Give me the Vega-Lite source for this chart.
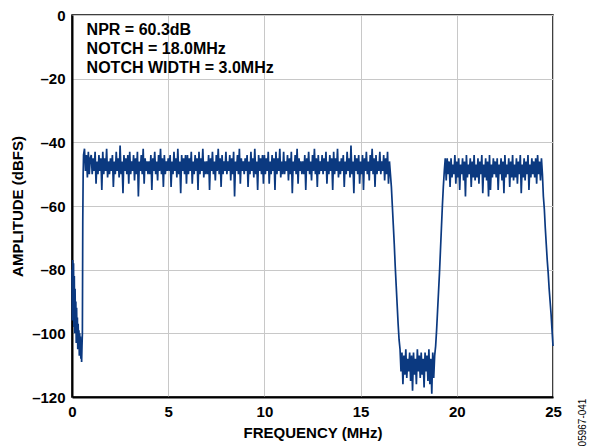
{
  "$schema": "https://vega.github.io/schema/vega-lite/v6.json",
  "width": 481,
  "height": 382,
  "autosize": "none",
  "padding": {"left": 72, "top": 15, "right": 39, "bottom": 50},
  "background": "white",
  "config": {
    "view": {"stroke": "#000000", "strokeWidth": 1.5, "fill": null},
    "font": "Liberation Sans"
  },
  "data": {"values": [
    {"f":0.00,"a":-80},{"f":0.02,"a":-96},{"f":0.04,"a":-77},{"f":0.06,"a":-92},{"f":0.08,"a":-78},{"f":0.10,"a":-98},{"f":0.12,"a":-82},{"f":0.14,"a":-100},{"f":0.16,"a":-86},{"f":0.18,"a":-97},{"f":0.20,"a":-90},{"f":0.22,"a":-103},{"f":0.24,"a":-92},{"f":0.26,"a":-101},{"f":0.28,"a":-95},{"f":0.30,"a":-105},{"f":0.32,"a":-97},{"f":0.34,"a":-103},{"f":0.36,"a":-99},{"f":0.38,"a":-107},{"f":0.40,"a":-100},{"f":0.42,"a":-104},{"f":0.44,"a":-101},{"f":0.46,"a":-108},{"f":0.48,"a":-103},{"f":0.50,"a":-109},{"f":0.52,"a":-104},{"f":0.54,"a":-100},{"f":0.56,"a":-65},{"f":0.58,"a":-50},{"f":0.60,"a":-44},
    {"f":0.65,"a":-42},{"f":0.70,"a":-49},{"f":0.75,"a":-44},{"f":0.80,"a":-51},{"f":0.85,"a":-43},{"f":0.90,"a":-50},{"f":0.95,"a":-45},
    {"f":1.00,"a":-44},{"f":1.05,"a":-50},{"f":1.10,"a":-45},{"f":1.15,"a":-49},{"f":1.20,"a":-43},{"f":1.25,"a":-53},{"f":1.30,"a":-46},{"f":1.35,"a":-50},{"f":1.40,"a":-44},{"f":1.45,"a":-49},{"f":1.50,"a":-45},{"f":1.55,"a":-55},{"f":1.60,"a":-43},{"f":1.65,"a":-50},{"f":1.70,"a":-45},{"f":1.75,"a":-49},{"f":1.80,"a":-42},{"f":1.85,"a":-51},{"f":1.90,"a":-46},{"f":1.95,"a":-50},
    {"f":2.00,"a":-45},{"f":2.05,"a":-49},{"f":2.10,"a":-44},{"f":2.15,"a":-54},{"f":2.20,"a":-46},{"f":2.25,"a":-50},{"f":2.30,"a":-43},{"f":2.35,"a":-49},{"f":2.40,"a":-45},{"f":2.45,"a":-51},{"f":2.50,"a":-41},{"f":2.55,"a":-50},{"f":2.60,"a":-46},{"f":2.65,"a":-56},{"f":2.70,"a":-44},{"f":2.75,"a":-49},{"f":2.80,"a":-45},{"f":2.85,"a":-50},{"f":2.90,"a":-44},{"f":2.95,"a":-53},
    {"f":3.00,"a":-43},{"f":3.05,"a":-50},{"f":3.10,"a":-46},{"f":3.15,"a":-49},{"f":3.20,"a":-44},{"f":3.25,"a":-52},{"f":3.30,"a":-45},{"f":3.35,"a":-50},{"f":3.40,"a":-43},{"f":3.45,"a":-57},{"f":3.50,"a":-46},{"f":3.55,"a":-49},{"f":3.60,"a":-44},{"f":3.65,"a":-50},{"f":3.70,"a":-42},{"f":3.75,"a":-53},{"f":3.80,"a":-45},{"f":3.85,"a":-49},{"f":3.90,"a":-46},{"f":3.95,"a":-50},
    {"f":4.00,"a":-46},{"f":4.05,"a":-50},{"f":4.10,"a":-44},{"f":4.15,"a":-55},{"f":4.20,"a":-45},{"f":4.25,"a":-49},{"f":4.30,"a":-43},{"f":4.35,"a":-50},{"f":4.40,"a":-46},{"f":4.45,"a":-52},{"f":4.50,"a":-44},{"f":4.55,"a":-49},{"f":4.60,"a":-42},{"f":4.65,"a":-50},{"f":4.70,"a":-45},{"f":4.75,"a":-54},{"f":4.80,"a":-44},{"f":4.85,"a":-50},{"f":4.90,"a":-46},{"f":4.95,"a":-49},
    {"f":5.00,"a":-45},{"f":5.05,"a":-49},{"f":5.10,"a":-44},{"f":5.15,"a":-54},{"f":5.20,"a":-46},{"f":5.25,"a":-50},{"f":5.30,"a":-43},{"f":5.35,"a":-49},{"f":5.40,"a":-45},{"f":5.45,"a":-51},{"f":5.50,"a":-42},{"f":5.55,"a":-50},{"f":5.60,"a":-46},{"f":5.65,"a":-56},{"f":5.70,"a":-44},{"f":5.75,"a":-49},{"f":5.80,"a":-45},{"f":5.85,"a":-50},{"f":5.90,"a":-44},{"f":5.95,"a":-53},
    {"f":6.00,"a":-44},{"f":6.05,"a":-50},{"f":6.10,"a":-45},{"f":6.15,"a":-49},{"f":6.20,"a":-43},{"f":6.25,"a":-53},{"f":6.30,"a":-46},{"f":6.35,"a":-50},{"f":6.40,"a":-44},{"f":6.45,"a":-49},{"f":6.50,"a":-45},{"f":6.55,"a":-55},{"f":6.60,"a":-43},{"f":6.65,"a":-50},{"f":6.70,"a":-45},{"f":6.75,"a":-49},{"f":6.80,"a":-42},{"f":6.85,"a":-51},{"f":6.90,"a":-46},{"f":6.95,"a":-50},
    {"f":7.00,"a":-46},{"f":7.05,"a":-50},{"f":7.10,"a":-44},{"f":7.15,"a":-55},{"f":7.20,"a":-45},{"f":7.25,"a":-49},{"f":7.30,"a":-43},{"f":7.35,"a":-50},{"f":7.40,"a":-46},{"f":7.45,"a":-52},{"f":7.50,"a":-44},{"f":7.55,"a":-49},{"f":7.60,"a":-42},{"f":7.65,"a":-50},{"f":7.70,"a":-45},{"f":7.75,"a":-54},{"f":7.80,"a":-44},{"f":7.85,"a":-50},{"f":7.90,"a":-46},{"f":7.95,"a":-49},
    {"f":8.00,"a":-43},{"f":8.05,"a":-50},{"f":8.10,"a":-46},{"f":8.15,"a":-49},{"f":8.20,"a":-44},{"f":8.25,"a":-52},{"f":8.30,"a":-45},{"f":8.35,"a":-50},{"f":8.40,"a":-43},{"f":8.45,"a":-57},{"f":8.50,"a":-46},{"f":8.55,"a":-49},{"f":8.60,"a":-44},{"f":8.65,"a":-50},{"f":8.70,"a":-42},{"f":8.75,"a":-53},{"f":8.80,"a":-45},{"f":8.85,"a":-49},{"f":8.90,"a":-46},{"f":8.95,"a":-50},
    {"f":9.00,"a":-45},{"f":9.05,"a":-49},{"f":9.10,"a":-44},{"f":9.15,"a":-54},{"f":9.20,"a":-46},{"f":9.25,"a":-50},{"f":9.30,"a":-43},{"f":9.35,"a":-49},{"f":9.40,"a":-45},{"f":9.45,"a":-51},{"f":9.50,"a":-42},{"f":9.55,"a":-50},{"f":9.60,"a":-46},{"f":9.65,"a":-55},{"f":9.70,"a":-44},{"f":9.75,"a":-49},{"f":9.80,"a":-45},{"f":9.85,"a":-50},{"f":9.90,"a":-44},{"f":9.95,"a":-53},
    {"f":10.00,"a":-44},{"f":10.05,"a":-50},{"f":10.10,"a":-45},{"f":10.15,"a":-49},{"f":10.20,"a":-43},{"f":10.25,"a":-53},{"f":10.30,"a":-46},{"f":10.35,"a":-50},{"f":10.40,"a":-44},{"f":10.45,"a":-49},{"f":10.50,"a":-45},{"f":10.55,"a":-55},{"f":10.60,"a":-43},{"f":10.65,"a":-50},{"f":10.70,"a":-45},{"f":10.75,"a":-49},{"f":10.80,"a":-42},{"f":10.85,"a":-51},{"f":10.90,"a":-46},{"f":10.95,"a":-50},
    {"f":11.00,"a":-43},{"f":11.05,"a":-50},{"f":11.10,"a":-46},{"f":11.15,"a":-49},{"f":11.20,"a":-44},{"f":11.25,"a":-52},{"f":11.30,"a":-45},{"f":11.35,"a":-50},{"f":11.40,"a":-43},{"f":11.45,"a":-56},{"f":11.50,"a":-46},{"f":11.55,"a":-49},{"f":11.60,"a":-44},{"f":11.65,"a":-50},{"f":11.70,"a":-42},{"f":11.75,"a":-53},{"f":11.80,"a":-45},{"f":11.85,"a":-49},{"f":11.90,"a":-46},{"f":11.95,"a":-50},
    {"f":12.00,"a":-46},{"f":12.05,"a":-50},{"f":12.10,"a":-44},{"f":12.15,"a":-55},{"f":12.20,"a":-45},{"f":12.25,"a":-49},{"f":12.30,"a":-43},{"f":12.35,"a":-50},{"f":12.40,"a":-46},{"f":12.45,"a":-52},{"f":12.50,"a":-44},{"f":12.55,"a":-49},{"f":12.60,"a":-42},{"f":12.65,"a":-50},{"f":12.70,"a":-45},{"f":12.75,"a":-54},{"f":12.80,"a":-44},{"f":12.85,"a":-50},{"f":12.90,"a":-46},{"f":12.95,"a":-49},
    {"f":13.00,"a":-44},{"f":13.05,"a":-50},{"f":13.10,"a":-45},{"f":13.15,"a":-49},{"f":13.20,"a":-43},{"f":13.25,"a":-53},{"f":13.30,"a":-46},{"f":13.35,"a":-50},{"f":13.40,"a":-44},{"f":13.45,"a":-49},{"f":13.50,"a":-45},{"f":13.55,"a":-55},{"f":13.60,"a":-43},{"f":13.65,"a":-50},{"f":13.70,"a":-45},{"f":13.75,"a":-49},{"f":13.80,"a":-42},{"f":13.85,"a":-51},{"f":13.90,"a":-46},{"f":13.95,"a":-50},
    {"f":14.00,"a":-45},{"f":14.05,"a":-49},{"f":14.10,"a":-44},{"f":14.15,"a":-54},{"f":14.20,"a":-46},{"f":14.25,"a":-50},{"f":14.30,"a":-43},{"f":14.35,"a":-49},{"f":14.40,"a":-45},{"f":14.45,"a":-51},{"f":14.50,"a":-41},{"f":14.55,"a":-50},{"f":14.60,"a":-46},{"f":14.65,"a":-56},{"f":14.70,"a":-44},{"f":14.75,"a":-49},{"f":14.80,"a":-45},{"f":14.85,"a":-50},{"f":14.90,"a":-44},{"f":14.95,"a":-53},
    {"f":15.00,"a":-46},{"f":15.05,"a":-50},{"f":15.10,"a":-44},{"f":15.15,"a":-55},{"f":15.20,"a":-45},{"f":15.25,"a":-49},{"f":15.30,"a":-43},{"f":15.35,"a":-50},{"f":15.40,"a":-46},{"f":15.45,"a":-52},{"f":15.50,"a":-44},{"f":15.55,"a":-49},{"f":15.60,"a":-42},{"f":15.65,"a":-50},{"f":15.70,"a":-45},{"f":15.75,"a":-54},{"f":15.80,"a":-44},{"f":15.85,"a":-50},{"f":15.90,"a":-46},{"f":15.95,"a":-49},
    {"f":16.00,"a":-43},{"f":16.05,"a":-50},{"f":16.10,"a":-46},{"f":16.15,"a":-49},{"f":16.20,"a":-44},{"f":16.25,"a":-52},{"f":16.30,"a":-45},{"f":16.35,"a":-50},{"f":16.40,"a":-43},{"f":16.45,"a":-53},{"f":16.50,"a":-46},
    {"f":16.55,"a":-50},{"f":16.60,"a":-54},{"f":16.65,"a":-60},{"f":16.70,"a":-66},{"f":16.75,"a":-72},{"f":16.80,"a":-79},{"f":16.85,"a":-85},{"f":16.90,"a":-91},{"f":16.95,"a":-97},{"f":17.00,"a":-102},{"f":17.05,"a":-105},
    {"f":17.10,"a":-112},{"f":17.15,"a":-106},{"f":17.20,"a":-116},{"f":17.25,"a":-107},{"f":17.30,"a":-113},{"f":17.35,"a":-105},{"f":17.40,"a":-114},{"f":17.45,"a":-108},{"f":17.50,"a":-112},{"f":17.55,"a":-106},{"f":17.60,"a":-115},{"f":17.65,"a":-107},{"f":17.70,"a":-118},{"f":17.75,"a":-106},{"f":17.80,"a":-113},{"f":17.85,"a":-108},{"f":17.90,"a":-116},{"f":17.95,"a":-105},{"f":18.00,"a":-112},{"f":18.05,"a":-107},{"f":18.10,"a":-114},{"f":18.15,"a":-106},{"f":18.20,"a":-113},{"f":18.25,"a":-108},{"f":18.30,"a":-117},{"f":18.35,"a":-106},{"f":18.40,"a":-112},{"f":18.45,"a":-107},{"f":18.50,"a":-115},{"f":18.55,"a":-105},{"f":18.60,"a":-116},{"f":18.65,"a":-108},{"f":18.70,"a":-119},{"f":18.75,"a":-106},{"f":18.80,"a":-114},{"f":18.85,"a":-107},
    {"f":18.90,"a":-104},{"f":18.95,"a":-99},{"f":19.00,"a":-93},{"f":19.05,"a":-87},{"f":19.10,"a":-81},{"f":19.15,"a":-74},{"f":19.20,"a":-67},{"f":19.25,"a":-60},{"f":19.30,"a":-54},{"f":19.35,"a":-49},{"f":19.40,"a":-45},
    {"f":19.45,"a":-52},{"f":19.50,"a":-45},{"f":19.55,"a":-50},{"f":19.60,"a":-46},{"f":19.65,"a":-54},{"f":19.70,"a":-45},{"f":19.75,"a":-51},{"f":19.80,"a":-47},{"f":19.85,"a":-50},{"f":19.90,"a":-44},{"f":19.95,"a":-53},
    {"f":20.00,"a":-46},{"f":20.05,"a":-51},{"f":20.10,"a":-45},{"f":20.15,"a":-55},{"f":20.20,"a":-47},{"f":20.25,"a":-50},{"f":20.30,"a":-45},{"f":20.35,"a":-52},{"f":20.40,"a":-46},{"f":20.45,"a":-57},{"f":20.50,"a":-44},{"f":20.55,"a":-51},{"f":20.60,"a":-47},{"f":20.65,"a":-50},{"f":20.70,"a":-45},{"f":20.75,"a":-54},{"f":20.80,"a":-46},{"f":20.85,"a":-51},{"f":20.90,"a":-44},{"f":20.95,"a":-52},
    {"f":21.00,"a":-47},{"f":21.05,"a":-51},{"f":21.10,"a":-45},{"f":21.15,"a":-53},{"f":21.20,"a":-46},{"f":21.25,"a":-50},{"f":21.30,"a":-44},{"f":21.35,"a":-56},{"f":21.40,"a":-47},{"f":21.45,"a":-51},{"f":21.50,"a":-45},{"f":21.55,"a":-52},{"f":21.60,"a":-46},{"f":21.65,"a":-57},{"f":21.70,"a":-44},{"f":21.75,"a":-55},{"f":21.80,"a":-47},{"f":21.85,"a":-51},{"f":21.90,"a":-45},{"f":21.95,"a":-50},
    {"f":22.00,"a":-46},{"f":22.05,"a":-51},{"f":22.10,"a":-45},{"f":22.15,"a":-55},{"f":22.20,"a":-47},{"f":22.25,"a":-50},{"f":22.30,"a":-45},{"f":22.35,"a":-52},{"f":22.40,"a":-46},{"f":22.45,"a":-56},{"f":22.50,"a":-44},{"f":22.55,"a":-51},{"f":22.60,"a":-47},{"f":22.65,"a":-50},{"f":22.70,"a":-45},{"f":22.75,"a":-54},{"f":22.80,"a":-46},{"f":22.85,"a":-51},{"f":22.90,"a":-44},{"f":22.95,"a":-52},
    {"f":23.00,"a":-47},{"f":23.05,"a":-51},{"f":23.10,"a":-45},{"f":23.15,"a":-53},{"f":23.20,"a":-46},{"f":23.25,"a":-50},{"f":23.30,"a":-44},{"f":23.35,"a":-56},{"f":23.40,"a":-47},{"f":23.45,"a":-51},{"f":23.50,"a":-45},{"f":23.55,"a":-52},{"f":23.60,"a":-46},{"f":23.65,"a":-50},{"f":23.70,"a":-44},{"f":23.75,"a":-55},{"f":23.80,"a":-47},{"f":23.85,"a":-51},{"f":23.90,"a":-45},{"f":23.95,"a":-50},
    {"f":24.00,"a":-46},{"f":24.05,"a":-51},{"f":24.10,"a":-45},{"f":24.15,"a":-53},{"f":24.20,"a":-44},{"f":24.25,"a":-50},{"f":24.30,"a":-46},{"f":24.35,"a":-52},{"f":24.40,"a":-45},
    {"f":24.45,"a":-50},{"f":24.50,"a":-57},{"f":24.55,"a":-61},{"f":24.60,"a":-67},{"f":24.65,"a":-72},{"f":24.70,"a":-77},{"f":24.75,"a":-81},{"f":24.80,"a":-86},{"f":24.85,"a":-90},{"f":24.90,"a":-94},{"f":24.95,"a":-99},{"f":25.00,"a":-104}
  ]},
  "layer": [
    {
      "mark": {"type": "line", "color": "#0b3980", "strokeWidth": 1.7},
      "encoding": {
        "x": {"field": "f", "type": "quantitative", "scale": {"domain": [0, 25], "nice": false},
              "axis": {"values": [0, 5, 10, 15, 20, 25], "title": "FREQUENCY (MHz)", "labelPadding": 7, "titlePadding": 6,
                       "labelFlush": false, "labelFont": "Liberation Sans", "labelFontWeight": "bold", "labelFontSize": 15, "labelColor": "#000000",
                       "titleFont": "Liberation Sans", "titleFontWeight": "bold", "titleFontSize": 15, "titleColor": "#000000",
                       "grid": true, "gridColor": "#c8c8c8", "gridWidth": 1, "gridOpacity": 1,
                       "domain": true, "domainColor": "#000000", "domainWidth": 2, "domainOpacity": 1, "ticks": false}},
        "y": {"field": "a", "type": "quantitative", "scale": {"domain": [-120, 0], "nice": false},
              "axis": {"values": [0, -20, -40, -60, -80, -100, -120], "title": "AMPLITUDE (dBFS)", "labelPadding": 7, "titlePadding": 6,
                       "labelExpr": "datum.value == 0 ? '0' : '–' + abs(datum.value)", "labelFlush": false,
                       "labelFont": "Liberation Sans", "labelFontWeight": "bold", "labelFontSize": 15, "labelColor": "#000000",
                       "titleFont": "Liberation Sans", "titleFontWeight": "bold", "titleFontSize": 15, "titleColor": "#000000",
                       "grid": true, "gridColor": "#c8c8c8", "gridWidth": 1, "gridOpacity": 1,
                       "domain": true, "domainColor": "#000000", "domainWidth": 2, "domainOpacity": 1, "ticks": false}}
      }
    },
    {
      "data": {"values": [{"note": "annotation"}]},
      "mark": {"type": "text", "align": "left", "baseline": "alphabetic", "fontWeight": "bold", "fontSize": 16, "lineHeight": 19, "font": "Liberation Sans", "color": "#000000"},
      "encoding": {
        "x": {"datum": 0.76},
        "y": {"datum": -6.3, "axis": {"orient": "right", "labels": false, "domain": false, "grid": false, "ticks": false,
              "title": "05967-041", "titleAngle": 270, "titleFontWeight": "normal", "titleFontSize": 10, "titleFont": "Liberation Sans", "titleColor": "#000000",
              "titleX": 29, "titleY": 407, "titleAlign": "center", "titleBaseline": "middle"}},
        "text": {"value": ["NPR = 60.3dB", "NOTCH = 18.0MHz", "NOTCH WIDTH = 3.0MHz"]}
      }
    }
  ],
  "resolve": {"axis": {"y": "independent"}}
}
